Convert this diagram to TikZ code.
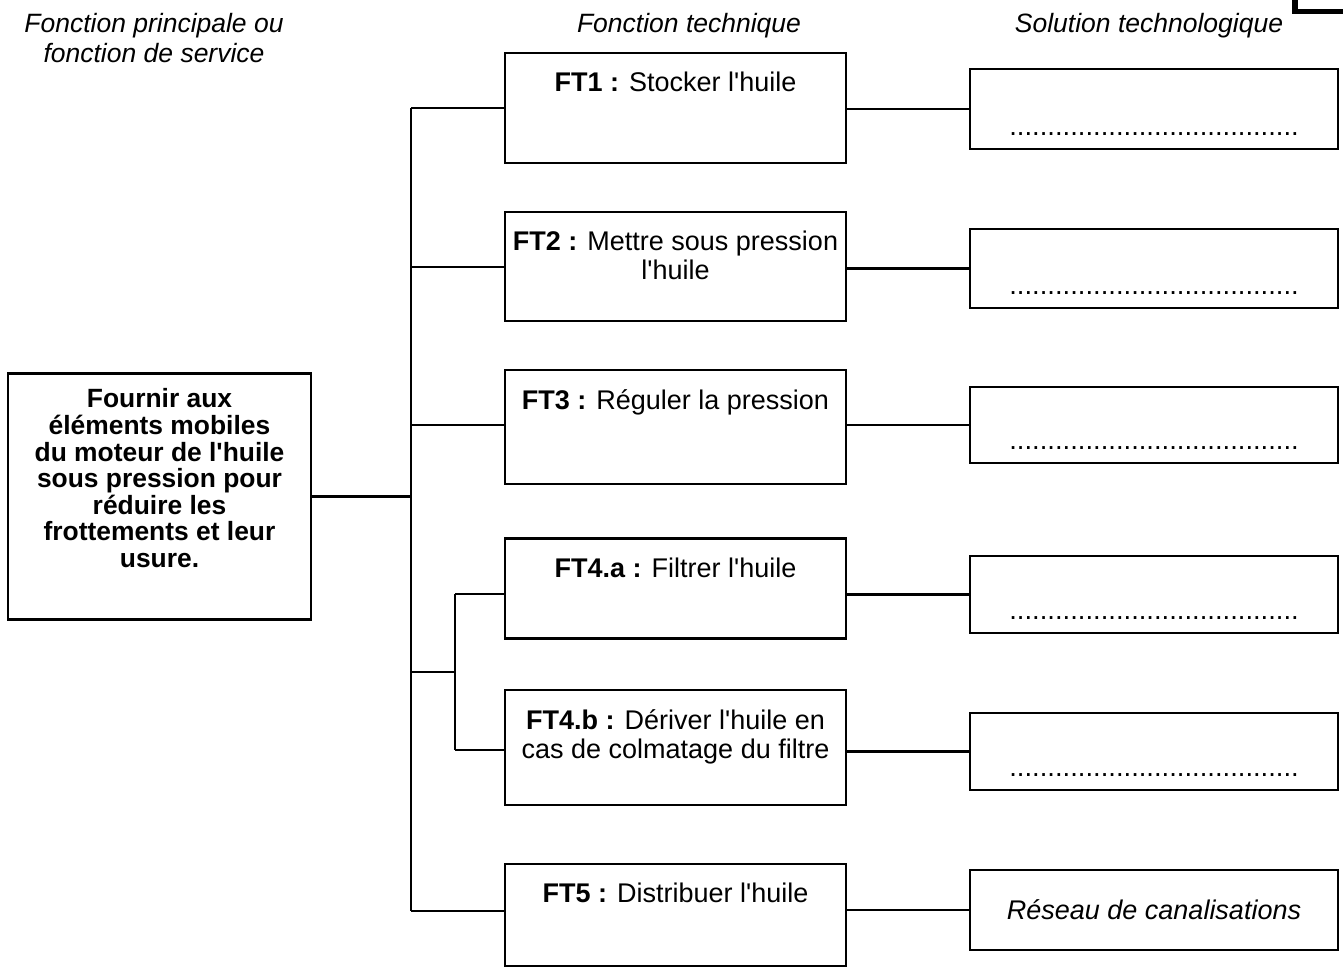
\documentclass[tikz,border=0pt]{standalone}
\usepackage{fontspec}
\newfontfamily\arial{Liberation Sans}
\begin{document}
\begin{tikzpicture}[x=0.5pt,y=-0.5pt,
  every node/.style={font=\arial\fontsize{13.5}{14.5}\selectfont},
  box/.style={draw,line width=1.2pt,inner sep=0pt,minimum width=#1},
  ftbox/.style={box=170.5pt},
  solbox/.style={box=184pt},
  lbl/.style={anchor=north,inner sep=0pt,align=center,yshift=-10pt},
  dots/.style={label={[anchor=base,inner sep=0pt,yshift=7.25pt,font=\arial\fontsize{13.7}{14}\selectfont]south:......................................}},
  hdr/.style={anchor=north,inner sep=0pt,align=center,font=\arial\fontsize{13.25}{15}\selectfont\itshape},
  conn/.style={line width=1.2pt}]
\useasboundingbox (0,0) rectangle (1343,967);
% headers
\node[hdr] (h1) at (154,13) {Fonction principale ou\\fonction de service};
\node[hdr] (h2) at (689,13) {Fonction technique};
\node[hdr] (h3) at (1149,13) {Solution technologique};
\draw[line width=2.6pt] (1295,-2) -- (1295,11.5) -- (1345,11.5);
% main box
\node[box=151.5pt,minimum height=123pt,
  label={[anchor=north,inner sep=0pt,align=center,yshift=-8pt,font=\arial\fontsize{13.2}{13.3}\selectfont\bfseries]north:Fournir aux\\éléments mobiles\\du moteur de l'huile\\sous pression pour\\réduire les\\frottements et leur\\usure.}]
  (main) at (159.5,496.5) {};
% technical function boxes
\node[ftbox,minimum height=55pt,label={[lbl]north:\textbf{FT1 :} Stocker l'huile}] (ft1) at (675.5,108) {};
\node[ftbox,minimum height=54.5pt,label={[lbl]north:\textbf{FT2 :} Mettre sous pression\\l'huile}] (ft2) at (675.5,266.5) {};
\node[ftbox,minimum height=57pt,label={[lbl]north:\textbf{FT3 :} Réguler la pression}] (ft3) at (675.5,427) {};
\node[ftbox,minimum height=50pt,label={[lbl]north:\textbf{FT4.a :} Filtrer l'huile}] (ft4a) at (675.5,588.5) {};
\node[ftbox,minimum height=57.5pt,label={[lbl]north:\textbf{FT4.b :} Dériver l'huile en\\cas de colmatage du filtre}] (ft4b) at (675.5,747.5) {};
\node[ftbox,minimum height=51pt,label={[lbl]north:\textbf{FT5 :} Distribuer l'huile}] (ft5) at (675.5,915) {};
% solution boxes
\node[solbox,minimum height=40pt,dots] (s1) at (1154,109) {};
\node[solbox,minimum height=39.5pt,dots] (s2) at (1154,268.5) {};
\node[solbox,minimum height=38pt,dots] (s3) at (1154,425) {};
\node[solbox,minimum height=38.5pt,dots] (s4) at (1154,594.5) {};
\node[solbox,minimum height=38.5pt,dots] (s5) at (1154,751.5) {};
\node[solbox,minimum height=40pt,font=\arial\fontsize{13.5}{14}\selectfont\itshape] (s6) at (1154,910) {Réseau de canalisations};
% trunk coordinates
\coordinate (t1) at (411,108);
\coordinate (t2) at (411,267);
\coordinate (t3) at (411,425);
\coordinate (tm) at (411,496.5);
\coordinate (t4) at (411,672);
\coordinate (t5) at (411,911);
\coordinate (u4) at (455,672);
\coordinate (ua) at (455,594);
\coordinate (ub) at (455,750);
% connectors
\draw[conn] (main.east) -- (tm);
\draw[conn] (t1) -- (t5);
\draw[conn] (t1) -- (t1 -| ft1.west);
\draw[conn] (t2) -- (t2 -| ft2.west);
\draw[conn] (t3) -- (t3 -| ft3.west);
\draw[conn] (t4) -- (u4);
\draw[conn] (ua) -- (ub);
\draw[conn] (ua) -- (ua -| ft4a.west);
\draw[conn] (ub) -- (ub -| ft4b.west);
\draw[conn] (t5) -- (t5 -| ft5.west);
\draw[conn] (s1.west -| ft1.east) -- (s1.west);
\draw[conn] (s2.west -| ft2.east) -- (s2.west);
\draw[conn] (s3.west -| ft3.east) -- (s3.west);
\draw[conn] (s4.west -| ft4a.east) -- (s4.west);
\draw[conn] (s5.west -| ft4b.east) -- (s5.west);
\draw[conn] (s6.west -| ft5.east) -- (s6.west);
\end{tikzpicture}
\end{document}
